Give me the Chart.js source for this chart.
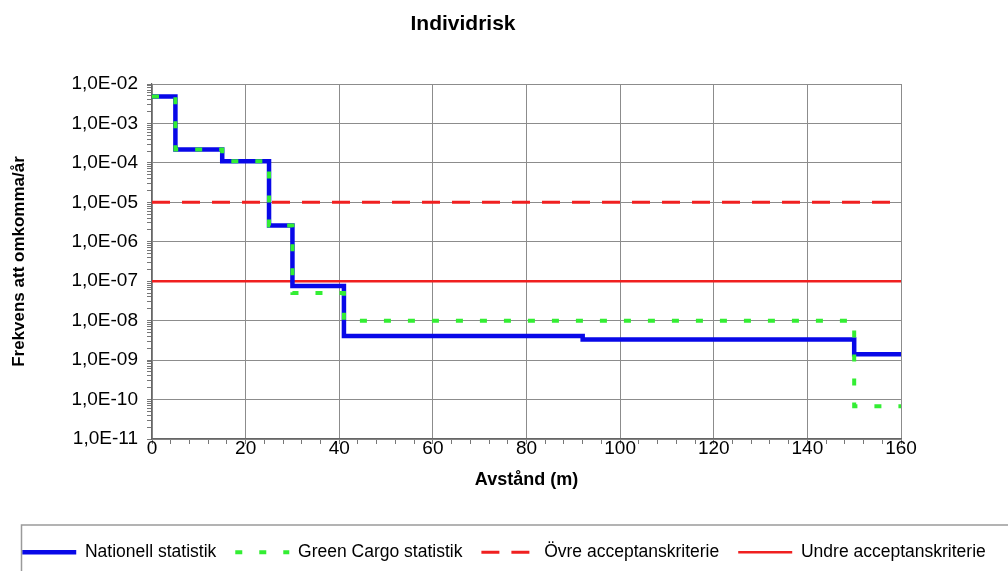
<!DOCTYPE html>
<html>
<head>
<meta charset="utf-8">
<script src="https://cdn.jsdelivr.net/npm/chart.js@4.4.1/dist/chart.umd.min.js"></script>
<style>
  html, body { margin: 0; padding: 0; background: #fff; }
  #wrap { width: 1008px; height: 571px; }
</style>
</head>
<body>
<div id="wrap"><canvas id="riskChart" width="1008" height="571"></canvas></div>
<script>
// step start distances (m); the last point closes each line at 160 m
const nationellX = [0, 5, 15, 25, 30, 41, 92, 150, 160];
const nationellY = [4.8e-3, 2.2e-4, 1.1e-4, 2.6e-6, 7.6e-8, 4.1e-9, 3.35e-9, 1.4e-9, 1.4e-9];
const greenCargoX = [0, 5, 15, 25, 30, 41, 150, 160];
const greenCargoY = [4.8e-3, 2.2e-4, 1.1e-4, 2.6e-6, 5.0e-8, 1.0e-8, 6.8e-11, 6.8e-11];
const kriterieX = [0, 160];
const ovreY = [1e-5, 1e-5];
const undreY = [1e-7, 1e-7];

const seriesNames = ['Nationell statistik', 'Green Cargo statistik', 'Övre acceptanskriterie', 'Undre acceptanskriterie'];
const xTickLabels = [0, 20, 40, 60, 80, 100, 120, 140, 160];
const yDecades = [-11, -10, -9, -8, -7, -6, -5, -4, -3, -2];
const yTickLabels = ['1,0E-11', '1,0E-10', '1,0E-09', '1,0E-08', '1,0E-07', '1,0E-06', '1,0E-05', '1,0E-04', '1,0E-03', '1,0E-02'];

const FONT = '"Liberation Sans", Arial, sans-serif';

function toPoints(xs, ys) {
    return xs.map((x, i) => ({ x: x, y: ys[i] }));
}

function decadeIndex(value) {
    const l = Math.log10(value);
    return yDecades.findIndex(e => Math.abs(l - e) < 1e-6);
}

// title is not centred over the canvas in the original, so draw it by hand
const titlePlugin = {
    id: 'titleText',
    afterDraw(chart) {
        const ctx = chart.ctx;
        ctx.save();
        ctx.font = 'bold 21px ' + FONT;
        ctx.fillStyle = '#000';
        ctx.textAlign = 'center';
        ctx.textBaseline = 'alphabetic';
        ctx.fillText('Individrisk', 463, 30);
        ctx.restore();
    }
};

// frame around the legend
const legendFrame = {
    id: 'legendFrame',
    afterDraw(chart) {
        const lg = chart.legend;
        const ctx = chart.ctx;
        ctx.save();
        ctx.strokeStyle = '#9a9a9a';
        ctx.lineWidth = 1.5;
        ctx.strokeRect(21.5, lg.top + 0.5, 1000, 80);
        ctx.restore();
    }
};

const ctx = document.getElementById('riskChart').getContext('2d');
window.riskChart = new Chart(ctx, {
    type: 'line',
    data: {
        datasets: [{
            label: seriesNames[0],
            data: toPoints(nationellX, nationellY),
            borderColor: '#0808e8',
            borderWidth: 4.5,
            stepped: 'before',
            borderJoinStyle: 'miter',
            order: 2
        }, {
            label: seriesNames[1],
            data: toPoints(greenCargoX, greenCargoY),
            borderColor: '#33ee33',
            borderWidth: 4,
            borderDash: [7, 17],
            stepped: 'before',
            order: 1
        }, {
            label: seriesNames[2],
            data: toPoints(kriterieX, ovreY),
            borderColor: '#f02020',
            borderWidth: 3,
            borderDash: [18, 12],
            order: 3
        }, {
            label: seriesNames[3],
            data: toPoints(kriterieX, undreY),
            borderColor: '#f02020',
            borderWidth: 2.5,
            order: 4
        }]
    },
    options: {
        responsive: false,
        animation: false,
        layout: { padding: { top: 84, left: 0, right: 0, bottom: 0 } },
        elements: {
            point: { radius: 0, hoverRadius: 0, pointStyle: 'line' },
            line: { fill: false, tension: 0, borderCapStyle: 'butt' }
        },
        plugins: {
            title: { display: false },
            tooltip: { enabled: false },
            legend: {
                position: 'bottom',
                labels: {
                    usePointStyle: true,
                    pointStyleWidth: 54,
                    padding: 19,
                    color: '#000',
                    font: { family: FONT, size: 17.5 },
                    // legend samples keep the dash pattern of each line
                    generateLabels: chart => chart.data.datasets.map((ds, i) => ({
                        text: ds.label,
                        datasetIndex: i,
                        strokeStyle: ds.borderColor,
                        fillStyle: ds.borderColor,
                        lineWidth: ds.borderWidth,
                        lineDash: ds.borderDash || [],
                        lineCap: 'butt',
                        pointStyle: 'line',
                        fontColor: '#000',
                        hidden: false
                    }))
                }
            }
        },
        scales: {
            x: {
                type: 'linear',
                min: 0,
                max: 160,
                afterFit: s => { s.height = 85.5; },
                ticks: {
                    stepSize: 4,
                    autoSkip: false,
                    maxRotation: 0,
                    padding: -7,
                    color: '#000',
                    font: { family: FONT, size: 19 },
                    callback: v => xTickLabels.includes(v) ? String(v) : ''
                },
                grid: {
                    color: c => (c.tick && c.tick.value % 20 === 0) ? '#8c8c8c' : 'rgba(0,0,0,0)',
                    tickColor: '#777',
                    tickLength: 5,
                    lineWidth: 1
                },
                border: { color: '#666', width: 1.2 },
                title: {
                    display: true,
                    text: 'Avstånd (m)',
                    color: '#000',
                    font: { family: FONT, size: 18, weight: 'bold' },
                    padding: { top: 4, bottom: 33.7 }
                }
            },
            y: {
                type: 'logarithmic',
                min: 1e-11,
                max: 1e-2,
                afterFit: s => { s.width = 152; },
                afterBuildTicks: s => {
                    const t = [];
                    yDecades.forEach((e, i) => {
                        t.push({ value: Number('1e' + e), major: true });
                        if (i < yDecades.length - 1) {
                            for (let k = 2; k <= 9; k++) t.push({ value: Number(k + 'e' + e) });
                        }
                    });
                    s.ticks = t;
                },
                ticks: {
                    autoSkip: false,
                    padding: 9,
                    color: '#000',
                    font: { family: FONT, size: 19 },
                    callback: v => {
                        const i = decadeIndex(v);
                        return i >= 0 ? yTickLabels[i] : '';
                    }
                },
                grid: {
                    color: c => (c.tick && decadeIndex(c.tick.value) >= 0) ? '#8c8c8c' : 'rgba(0,0,0,0)',
                    tickColor: '#777',
                    tickLength: 5,
                    lineWidth: 1
                },
                border: { color: '#666', width: 1.2 },
                title: {
                    display: true,
                    text: 'Frekvens att omkomma/år',
                    color: '#000',
                    font: { family: FONT, size: 17, weight: 'bold' },
                    padding: { top: 9, bottom: 10 }
                }
            },
            yRight: {
                position: 'right',
                display: true,
                afterFit: s => { s.width = 107; },
                grid: { display: false, drawTicks: false },
                border: { display: false },
                ticks: { display: false }
            }
        }
    },
    plugins: [titlePlugin, legendFrame]
});
</script>
</body>
</html>
